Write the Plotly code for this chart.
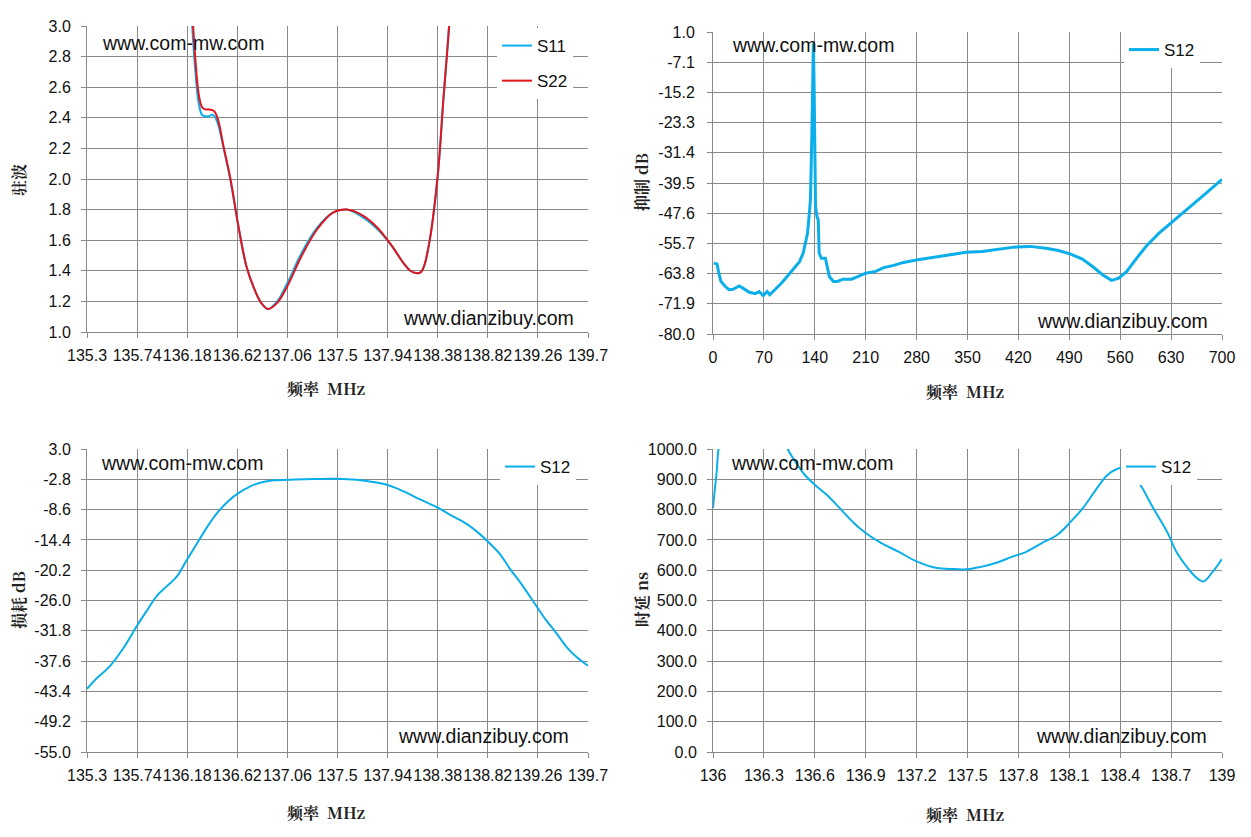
import plotly.graph_objects as go

# ---- data ----
# top left: VSWR
vswr_freq = [136.19, 136.22, 136.25, 136.28, 136.31, 136.34, 136.37, 136.40, 136.42,
             136.45, 136.50, 136.56, 136.63, 136.70, 136.77, 136.83, 136.89, 136.97,
             137.06, 137.18, 137.32, 137.46, 137.58, 137.70, 137.84, 137.98, 138.08,
             138.14, 138.19, 138.23, 138.26, 138.31, 138.38, 138.43, 138.48, 138.51]
s11_vswr = [3.5, 3.05, 2.72, 2.50, 2.42, 2.41, 2.41, 2.42, 2.41,
            2.36, 2.20, 1.99, 1.69, 1.43, 1.28, 1.19, 1.15, 1.20,
            1.32, 1.51, 1.68, 1.78, 1.80, 1.76, 1.68, 1.56, 1.45,
            1.40, 1.385, 1.39, 1.43, 1.60, 2.02, 2.52, 3.0, 3.4]
s22_vswr = [3.6, 3.15, 2.80, 2.56, 2.47, 2.455, 2.455, 2.45, 2.44,
            2.39, 2.21, 2.00, 1.69, 1.43, 1.28, 1.19, 1.15, 1.19,
            1.30, 1.49, 1.67, 1.78, 1.80, 1.77, 1.69, 1.56, 1.45,
            1.40, 1.385, 1.39, 1.43, 1.60, 2.02, 2.52, 3.0, 3.4]

# top right: wideband rejection
wide_freq = [1, 5.5, 8, 11, 16.6, 22, 27.6, 36, 41, 50, 58, 63.5, 69, 74.5, 78, 85.6,
             94, 102, 110, 119, 124, 127, 130, 132.5, 134, 136, 137, 138, 139, 140,
             141, 143, 144.7, 146, 149, 154.6, 157, 160, 165.6, 171, 179, 190.5, 199,
             210, 223.6, 234.7, 248.5, 262, 281.6, 303.7, 325.8, 347.9, 370, 392, 414,
             436, 458, 475, 491, 508, 522, 535.6, 548, 558, 569, 582.5, 596, 613, 635,
             657, 679, 700]
wide_s12 = [-61.0, -61.2, -63.7, -65.9, -67.2, -68.1, -68.0, -67.1, -67.7, -68.8,
            -69.2, -68.6, -69.7, -68.6, -69.5, -68.1, -66.4, -64.6, -62.6, -60.6,
            -58.3, -55.6, -53.0, -47.6, -44.0, -26.2, -3.0, -2.1, -12.8, -30.7,
            -45.8, -48.5, -49.4, -58.3, -59.7, -59.7, -61.9, -64.6, -65.9, -65.9,
            -65.3, -65.3, -64.6, -63.7, -63.2, -62.2, -61.6, -60.8, -60.1, -59.4,
            -58.8, -58.1, -57.9, -57.3, -56.7, -56.5, -57.0, -57.6, -58.5, -59.9,
            -61.9, -64.1, -65.6, -65.0, -63.2, -59.7, -56.4, -53.0, -49.4, -45.8,
            -42.1, -38.5]

# bottom left: insertion loss
loss_freq = [135.30, 135.39, 135.50, 135.62, 135.74, 135.83, 135.91, 136.00, 136.09,
             136.17, 136.26, 136.35, 136.43, 136.54, 136.62, 136.73, 136.83, 136.94,
             137.07, 137.28, 137.50, 137.67, 137.81, 137.94, 138.08, 138.22, 138.37,
             138.49, 138.63, 138.74, 138.82, 138.93, 139.01, 139.12, 139.22, 139.33,
             139.41, 139.52, 139.60, 139.70]
loss_s12 = [-42.9, -40.8, -38.6, -35.1, -30.8, -27.8, -25.2, -23.3, -21.4,
            -18.5, -15.3, -12.1, -9.6, -7.0, -5.6, -4.2, -3.4, -3.0,
            -2.9, -2.75, -2.7, -2.9, -3.3, -3.9, -5.1, -6.6, -8.1,
            -9.6, -11.3, -13.1, -14.7, -17.2, -19.8, -23.0, -26.2, -29.7,
            -31.9, -35.1, -36.8, -38.5]

# bottom right: group delay
delay_freq = [136.00, 136.02, 136.05, 136.20, 136.35, 136.44, 136.49, 136.54, 136.60,
              136.67, 136.74, 136.83, 136.90, 136.99, 137.09, 137.20, 137.32, 137.42,
              137.50, 137.58, 137.68, 137.76, 137.84, 137.94, 138.03, 138.11, 138.18,
              138.25, 138.32, 138.38, 138.43, 138.48, 138.53, 138.60, 138.68, 138.73,
              138.79, 138.84, 138.89, 138.94, 139.00]
delay_s12 = [805, 915, 1050, 1200, 1120, 1000, 954, 915, 882,
             849, 809, 756, 723, 690, 662, 629, 607, 604,
             603, 611, 626, 644, 659, 690, 717, 761, 805,
             860, 912, 934, 940, 915, 871, 800, 723, 662,
             613, 580, 563, 591, 637]

x_mhz_ticks = [135.3 + 0.44 * i for i in range(11)]
x_mhz_text = ["135.3", "135.74", "136.18", "136.62", "137.06", "137.5",
              "137.94", "138.38", "138.82", "139.26", "139.7"]
x_wide_ticks = [70 * i for i in range(11)]
x_delay_ticks = [136 + 0.3 * i for i in range(11)]
x_delay_text = ["136", "136.3", "136.6", "136.9", "137.2", "137.5",
                "137.8", "138.1", "138.4", "138.7", "139"]
y_vswr_ticks = [1.0 + 0.2 * i for i in range(11)]
y_wide_ticks = [1.0 - 8.1 * i for i in range(11)]
y_loss_ticks = [3.0 - 5.8 * i for i in range(11)]
y_delay_ticks = [100 * i for i in range(11)]

W, H = 1251, 837
BLUE = "#0aaeea"
RED = "#e3141c"
GRID = "#898989"
TICKFONT = dict(family="Liberation Sans, Arial", size=16, color="#111")
TITLEFONT = dict(family="Noto Serif CJK SC, Noto Sans CJK SC, serif", size=16,
                 color="#222", weight="bold")

fig = go.Figure()

fig.add_trace(go.Scatter(x=vswr_freq, y=s11_vswr, name="S11", xaxis="x", yaxis="y",
                         line=dict(color=BLUE, width=2, shape="spline"),
                         legend="legend", legendgroup="a"))
fig.add_trace(go.Scatter(x=vswr_freq, y=s22_vswr, name="S22", xaxis="x", yaxis="y",
                         line=dict(color=RED, width=2, shape="spline"),
                         legend="legend", legendgroup="b"))
fig.add_trace(go.Scatter(x=wide_freq, y=wide_s12, name="S12", xaxis="x2", yaxis="y2",
                         line=dict(color=BLUE, width=3), legend="legend2"))
fig.add_trace(go.Scatter(x=loss_freq, y=loss_s12, name="S12", xaxis="x3", yaxis="y3",
                         line=dict(color=BLUE, width=2, shape="spline"),
                         legend="legend3"))
fig.add_trace(go.Scatter(x=delay_freq, y=delay_s12, name="S12", xaxis="x4", yaxis="y4",
                         line=dict(color=BLUE, width=2, shape="spline"),
                         legend="legend4"))
fig.update_traces(mode="lines", cliponaxis=True)


def px_x(a, b):
    return [a / W, b / W]


def px_y(top, bottom):
    return [1 - bottom / H, 1 - top / H]


def axis(dom, rng, vals, text, anchor, standoff):
    return dict(domain=dom, range=rng, tickmode="array", tickvals=vals, ticktext=text,
                showgrid=True, gridcolor=GRID, gridwidth=1, showline=True,
                linecolor=GRID, linewidth=1, ticks="outside", ticklen=5,
                tickcolor=GRID, tickfont=TICKFONT, zeroline=False, anchor=anchor,
                automargin=False, tickangle=0, ticklabelstandoff=standoff)


fig.update_layout(
    xaxis=axis(px_x(87, 588), [135.3, 139.7], x_mhz_ticks, x_mhz_text, "y", 4),
    yaxis=axis(px_y(26, 332), [1.0, 3.0], y_vswr_ticks,
               ["%.1f" % v for v in y_vswr_ticks], "x", 7),
    xaxis2=axis(px_x(713, 1222), [0, 700], x_wide_ticks,
                [str(v) for v in x_wide_ticks], "y2", 4),
    yaxis2=axis(px_y(32, 334), [-80.0, 1.0], y_wide_ticks,
                ["%.1f" % v for v in y_wide_ticks], "x2", 9),
    xaxis3=axis(px_x(87, 588), [135.3, 139.7], x_mhz_ticks, x_mhz_text, "y3", 4),
    yaxis3=axis(px_y(449, 752), [-55.0, 3.0], y_loss_ticks,
                ["%.1f" % v for v in y_loss_ticks], "x3", 7),
    xaxis4=axis(px_x(713, 1222), [136, 139], x_delay_ticks, x_delay_text, "y4", 4),
    yaxis4=axis(px_y(449, 752), [0, 1000], y_delay_ticks,
                ["%.1f" % v for v in y_delay_ticks], "x4", 7),
)

legend_style = dict(bgcolor="white", borderwidth=0, xanchor="left", yanchor="top",
                    font=dict(family="Liberation Sans, Arial", size=17, color="#111"),
                    itemwidth=30)
fig.update_layout(
    legend=dict(x=497 / W, y=1 - 28 / H, tracegroupgap=10, traceorder="grouped",
                **legend_style),
    legend2=dict(x=1124 / W, y=1 - 32 / H, **legend_style),
    legend3=dict(x=500 / W, y=1 - 449 / H, **legend_style),
    legend4=dict(x=1121 / W, y=1 - 449 / H, **legend_style),
)

# watermarks and axis titles
wm_font = dict(family="Liberation Sans, Arial", size=19.5, color="#111")
annotations = []
for xl, yt, xr, yb in [(100, 43, 576, 318), (730, 45, 1210, 321),
                       (99, 463, 571, 736), (729, 463, 1209, 736)]:
    annotations.append(dict(x=xl / W, y=1 - yt / H, xref="paper", yref="paper",
                            text="www.com-mw.com", showarrow=False, xanchor="left",
                            yanchor="middle", font=wm_font))
    annotations.append(dict(x=xr / W, y=1 - yb / H, xref="paper", yref="paper",
                            text="www.dianzibuy.com", showarrow=False, xanchor="right",
                            yanchor="middle", font=wm_font))

for xc, yc in [(326, 388), (965, 391), (326, 812), (965, 814)]:
    annotations.append(dict(x=xc / W, y=1 - yc / H, xref="paper", yref="paper",
                            text="频率  MHz", showarrow=False, font=TITLEFONT,
                            xanchor="center", yanchor="middle"))

for xc, yc, txt in [(18, 180, "驻波"), (641, 182, "抑制 dB"),
                    (18, 600, "损耗 dB"), (641, 600, "时延 ns")]:
    annotations.append(dict(x=xc / W, y=1 - yc / H, xref="paper", yref="paper",
                            text=txt, showarrow=False, textangle=-90, font=TITLEFONT,
                            xanchor="center", yanchor="middle"))

fig.update_layout(
    annotations=annotations,
    width=W,
    height=H,
    margin=dict(l=0, r=0, t=0, b=0),
    paper_bgcolor="white",
    plot_bgcolor="white",
    showlegend=True,
)

fig.write_html("out.html", config={"displayModeBar": False},
               post_script="document.body.style.margin = '0';")
